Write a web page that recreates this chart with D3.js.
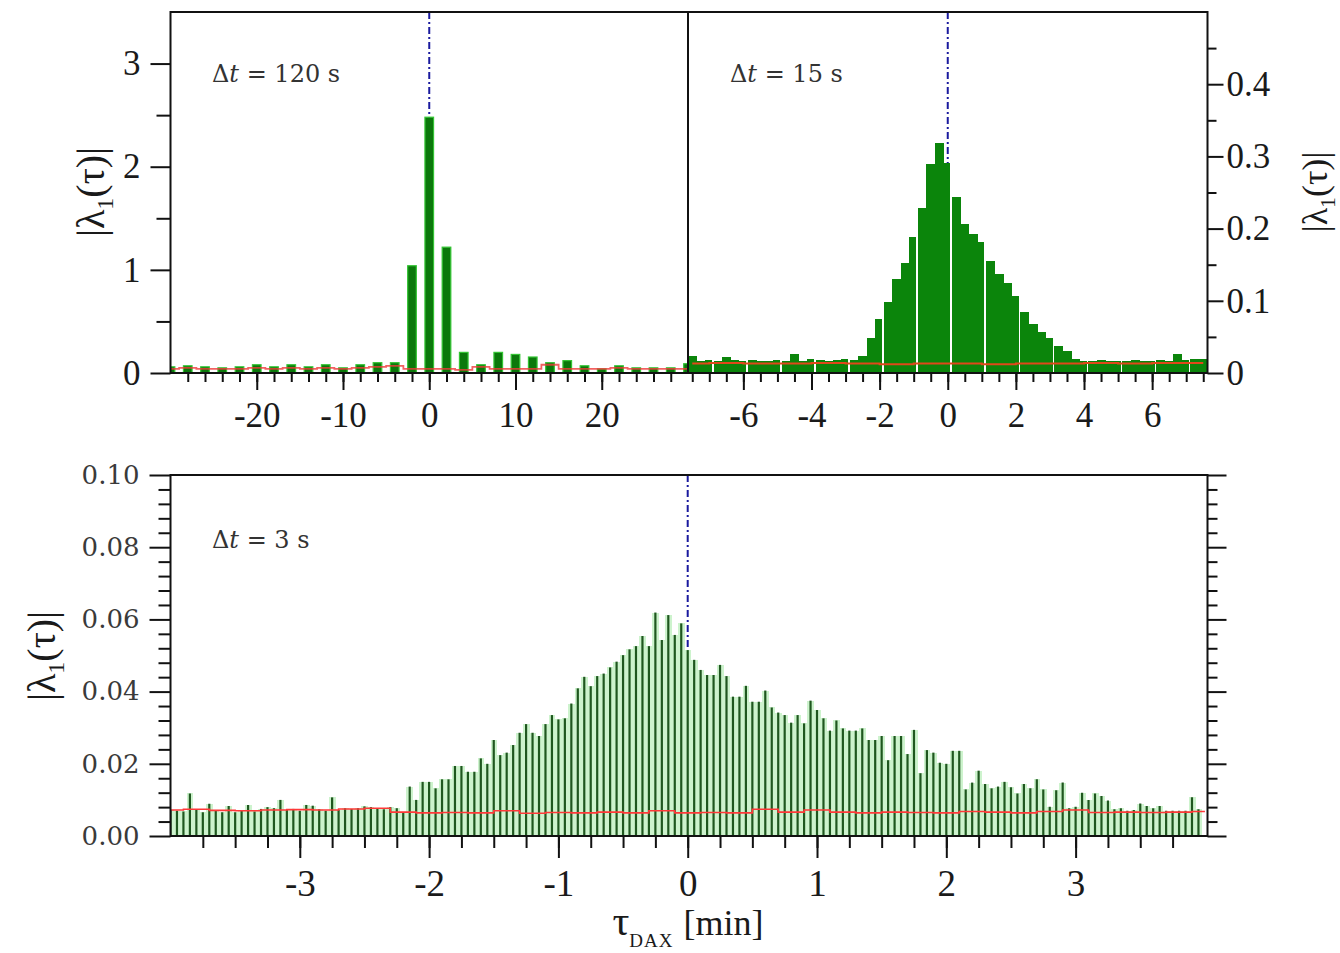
<!DOCTYPE html>
<html>
<head>
<meta charset="utf-8">
<script src="https://cdn.jsdelivr.net/npm/d3@7"></script>
<style>
  body { margin: 0; background: #fff; }
  svg { font-family: "Liberation Serif", "Times New Roman", serif; }
</style>
</head>
<body>
<svg id="chart" width="1340" height="953"></svg>
<script>
// ---- data: top-left panel, dt = 120 s (bins every 2 min) ----
const tau120 = d3.range(-30, 31, 2);
const lam120 = [0.06, 0.07, 0.06, 0.05, 0.06, 0.08, 0.06, 0.08, 0.06, 0.08, 0.05,
    0.08, 0.10, 0.10, 1.04, 2.48, 1.22, 0.20, 0.08, 0.20, 0.18,
    0.155, 0.10, 0.12, 0.07, 0.04, 0.07, 0.05, 0.05, 0.05, 0.09];
const noise120 = [0.04, 0.05, 0.04, 0.04, 0.04, 0.05, 0.04, 0.05, 0.04, 0.05, 0.04,
    0.05, 0.06, 0.07, 0.04, 0.04, 0.04, 0.03, 0.06, 0.04, 0.04,
    0.04, 0.08, 0.04, 0.04, 0.04, 0.05, 0.04, 0.04, 0.04, 0.04];

// ---- data: top-right panel, dt = 15 s (bins every 0.25 min) ----
const tau15 = d3.range(61).map(i => -7.5 + 0.25 * i);
const lam15 = [0.023, 0.017, 0.018, 0.017, 0.022, 0.018, 0.017, 0.018, 0.017, 0.017,
    0.018, 0.017, 0.026, 0.017, 0.019, 0.018, 0.017, 0.018, 0.019, 0.018,
    0.023, 0.049, 0.075, 0.098, 0.130, 0.152, 0.189, 0.229, 0.289, 0.319,
    0.291, 0.244, 0.207, 0.193, 0.181, 0.155, 0.137, 0.125, 0.106, 0.085,
    0.068, 0.057, 0.048, 0.038, 0.030, 0.019, 0.017, 0.017, 0.018, 0.017,
    0.016, 0.017, 0.018, 0.017, 0.017, 0.018, 0.017, 0.027, 0.018, 0.019, 0.019];
const tauNoise15 = d3.range(-7.5, 7.6, 1);
const noise15 = [0.013, 0.014, 0.013, 0.013, 0.014, 0.013, 0.012, 0.013,
    0.013, 0.012, 0.013, 0.013, 0.014, 0.013, 0.014, 0.014];

// ---- data: bottom panel, dt = 3 s (bins every 0.05 min) ----
const tau3 = d3.range(160).map(i => -4 + 0.05 * i);
const lam3 = [
    0.0072, 0.0070, 0.0068, 0.0118, 0.0072, 0.0066, 0.0089, 0.0072, 0.0066, 0.0083,
    0.0066, 0.0069, 0.0086, 0.0068, 0.0075, 0.0080, 0.0077, 0.0100, 0.0072, 0.0075,
    0.0070, 0.0086, 0.0084, 0.0074, 0.0070, 0.0107, 0.0072, 0.0077, 0.0075, 0.0077,
    0.0082, 0.0080, 0.0076, 0.0074, 0.0080, 0.0077, 0.0066, 0.0137, 0.0100, 0.0150,
    0.0150, 0.0132, 0.0157, 0.0157, 0.0194, 0.0194, 0.0178, 0.0178, 0.0215, 0.0200,
    0.0266, 0.0224, 0.0231, 0.0252, 0.0286, 0.0310, 0.0286, 0.0277, 0.0310, 0.0335,
    0.0323, 0.0326, 0.0367, 0.0409, 0.0441, 0.0415, 0.0443, 0.0450, 0.0467, 0.0483,
    0.0501, 0.0517, 0.0526, 0.0554, 0.0526, 0.0619, 0.0543, 0.0612, 0.0557, 0.0589,
    0.0515, 0.0488, 0.0460, 0.0446, 0.0446, 0.0474, 0.0443, 0.0386, 0.0386, 0.0416,
    0.0372, 0.0372, 0.0403, 0.0356, 0.0342, 0.0335, 0.0314, 0.0335, 0.0312, 0.0375,
    0.0349, 0.0326, 0.0292, 0.0320, 0.0298, 0.0292, 0.0292, 0.0298, 0.0266, 0.0266,
    0.0277, 0.0210, 0.0277, 0.0277, 0.0227, 0.0294, 0.0174, 0.0238, 0.0231, 0.0203,
    0.0200, 0.0236, 0.0236, 0.0129, 0.0148, 0.0181, 0.0144, 0.0132, 0.0137, 0.0150,
    0.0135, 0.0118, 0.0144, 0.0132, 0.0157, 0.0129, 0.0081, 0.0127, 0.0148, 0.0077,
    0.0081, 0.0120, 0.0100, 0.0118, 0.0111, 0.0098, 0.0074, 0.0077, 0.0070, 0.0072,
    0.0090, 0.0083, 0.0077, 0.0083, 0.0070, 0.0070, 0.0070, 0.0070, 0.0107, 0.0074];
const tauNoise3 = d3.range(41).map(i => -4 + 0.2 * i);
const noise3 = [0.0072, 0.0074, 0.0071, 0.0070, 0.0072, 0.0073, 0.0072, 0.0075, 0.0077, 0.0066,
    0.0064, 0.0065, 0.0064, 0.0070, 0.0063, 0.0065, 0.0064, 0.0066, 0.0064, 0.0070,
    0.0064, 0.0065, 0.0064, 0.0074, 0.0066, 0.0072, 0.0066, 0.0064, 0.0066, 0.0065,
    0.0064, 0.0068, 0.0066, 0.0064, 0.0068, 0.0072, 0.0065, 0.0066, 0.0065, 0.0066, 0.0068];

// ---- layout ----
const svg = d3.select("#chart");
const topArea = {top: 12, bottom: 373};
const botArea = {top: 475, bottom: 836};

const xL = d3.scaleLinear().domain([-30, 30]).range([170.5, 688]);
const xR = d3.scaleLinear().domain([-7.625, 7.625]).range([688, 1207.5]);
const xB = d3.scaleLinear().domain([-4, 4.02]).range([170.5, 1207.5]);
const yL = d3.scaleLinear().domain([0, 3.5]).range([topArea.bottom, topArea.top]);
const yR = d3.scaleLinear().domain([0, 0.5]).range([topArea.bottom, topArea.top]);
const yB = d3.scaleLinear().domain([0, 0.1]).range([botArea.bottom, botArea.top]);

function clip(id, x0, x1, y0, y1) {
    svg.append("clipPath").attr("id", id)
        .append("rect").attr("x", x0).attr("y", y0).attr("width", x1 - x0).attr("height", y1 - y0);
    return svg.append("g").attr("clip-path", `url(#${id})`);
}

function zeroLine(g, x, y) {
    g.append("line")
        .attr("x1", x(0)).attr("x2", x(0))
        .attr("y1", y.range()[1]).attr("y2", y.range()[0])
        .attr("stroke", "#1a1a9e").attr("stroke-width", 2)
        .attr("stroke-dasharray", "7,3,2,3");
}

function styleAxis(g, size, family) {
    g.select(".domain").remove();
    g.selectAll("line").attr("stroke", "#111").attr("stroke-width", 2);
    g.attr("font-family", family || "Liberation Serif").attr("font-size", size);
    g.selectAll("text").attr("fill", "#1a1a1a");
}

// ---- top-left panel ----
const gL = clip("clipL", 170.5, 688, topArea.top, topArea.bottom);
zeroLine(gL, xL, yL);
gL.selectAll(".bar120")
    .data(tau120)
    .enter()
    .append("rect")
    .attr("class", "bar120")
    .attr("x", d => xL(d - 0.5))
    .attr("width", xL(1) - xL(0))
    .attr("y", (d, i) => yL(lam120[i]))
    .attr("height", (d, i) => yL(0) - yL(lam120[i]))
    .attr("fill", "#0b780b")
    .attr("stroke", "#33c433")
    .attr("stroke-width", 1.2);
gL.append("path")
    .datum(tau120)
    .attr("fill", "none")
    .attr("stroke", "#f03a3a")
    .attr("stroke-opacity", 0.8)
    .attr("stroke-width", 1.8)
    .attr("d", d3.line().x(d => xL(d)).y((d, i) => yL(noise120[i])).curve(d3.curveStep));

// ---- top-right panel ----
const gR = clip("clipR", 688, 1207.5, topArea.top, topArea.bottom);
zeroLine(gR, xR, yR);
const binR = xR(0.25) - xR(0);
gR.selectAll(".bar15")
    .data(tau15)
    .enter()
    .append("rect")
    .attr("class", "bar15")
    .attr("x", d => xR(d - 0.125))
    .attr("width", d => Math.abs(d - Math.round(d)) < 1e-6 ? binR - 1.6 : binR + 0.4)
    .attr("y", (d, i) => yR(lam15[i]))
    .attr("height", (d, i) => yR(0) - yR(lam15[i]))
    .attr("fill", "#0b850b")
    .attr("shape-rendering", "crispEdges");
gR.append("path")
    .datum(tauNoise15)
    .attr("fill", "none")
    .attr("stroke", "#e0481a")
    .attr("stroke-width", 2)
    .attr("d", d3.line().x(d => xR(d)).y((d, i) => yR(noise15[i])).curve(d3.curveStep));

// ---- bottom panel ----
const gB = clip("clipB", 170.5, 1207.5, botArea.top, botArea.bottom);
zeroLine(gB, xB, yB);
const binB = xB(0.05) - xB(0);
gB.selectAll(".fill3")
    .data(tau3)
    .enter()
    .append("rect")
    .attr("class", "fill3")
    .attr("x", d => xB(d) - binB / 2)
    .attr("width", binB + 0.3)
    .attr("y", (d, i) => yB(lam3[i]))
    .attr("height", (d, i) => yB(0) - yB(lam3[i]))
    .attr("fill", "#cdf3cd")
    .attr("shape-rendering", "crispEdges");
gB.selectAll(".stick3")
    .data(tau3)
    .enter()
    .append("line")
    .attr("class", "stick3")
    .attr("x1", d => xB(d)).attr("x2", d => xB(d))
    .attr("y1", yB(0))
    .attr("y2", (d, i) => yB(lam3[i]))
    .attr("stroke", "#1f571f")
    .attr("stroke-width", 2.2);
gB.append("path")
    .datum(tauNoise3)
    .attr("fill", "none")
    .attr("stroke", "#ff3838")
    .attr("stroke-width", 1.6)
    .attr("d", d3.line().x(d => xB(d)).y((d, i) => yB(noise3[i])).curve(d3.curveStep));

// ---- frames ----
svg.append("rect")
    .attr("x", 170.5).attr("y", topArea.top)
    .attr("width", 1207.5 - 170.5).attr("height", topArea.bottom - topArea.top)
    .attr("fill", "none").attr("stroke", "#111").attr("stroke-width", 2);
svg.append("line")
    .attr("x1", 688).attr("x2", 688).attr("y1", topArea.top).attr("y2", topArea.bottom)
    .attr("stroke", "#111").attr("stroke-width", 2);
svg.append("rect")
    .attr("x", 170.5).attr("y", botArea.top)
    .attr("width", 1207.5 - 170.5).attr("height", botArea.bottom - botArea.top)
    .attr("fill", "none").attr("stroke", "#111").attr("stroke-width", 2);

// ---- axes: top-left ----
let g = svg.append("g").attr("transform", `translate(0,${topArea.bottom})`)
    .call(d3.axisBottom(xL).tickValues(d3.range(-28, 29, 2)).tickSize(9).tickFormat(""));
styleAxis(g, 35);
g = svg.append("g").attr("transform", `translate(0,${topArea.bottom})`)
    .call(d3.axisBottom(xL).tickValues([-20, -10, 0, 10, 20]).tickSize(17).tickPadding(12).tickFormat(d => String(d)));
styleAxis(g, 35);
g = svg.append("g").attr("transform", "translate(170.5,0)")
    .call(d3.axisLeft(yL).tickValues([0, 1, 2, 3]).tickSize(20).tickPadding(10).tickFormat(d => String(d)));
styleAxis(g, 35);
g = svg.append("g").attr("transform", "translate(170.5,0)")
    .call(d3.axisLeft(yL).tickValues([0.5, 1.5, 2.5]).tickSize(14).tickFormat(""));
styleAxis(g, 35);

// ---- axes: top-right ----
g = svg.append("g").attr("transform", `translate(0,${topArea.bottom})`)
    .call(d3.axisBottom(xR).tickValues(d3.range(-7.5, 7.6, 0.5)).tickSize(9).tickFormat(""));
styleAxis(g, 35);
g = svg.append("g").attr("transform", `translate(0,${topArea.bottom})`)
    .call(d3.axisBottom(xR).tickValues([-6, -4, -2, 0, 2, 4, 6]).tickSize(17).tickPadding(12).tickFormat(d => String(d)));
styleAxis(g, 35);
g = svg.append("g").attr("transform", "translate(1207.5,0)")
    .call(d3.axisRight(yR).tickValues([0, 0.1, 0.2, 0.3, 0.4]).tickSize(16).tickPadding(3).tickFormat(d => String(d)));
styleAxis(g, 35);
g = svg.append("g").attr("transform", "translate(1207.5,0)")
    .call(d3.axisRight(yR).tickValues([0.05, 0.15, 0.25, 0.35, 0.45]).tickSize(9).tickFormat(""));
styleAxis(g, 35);

// ---- axes: bottom ----
g = svg.append("g").attr("transform", `translate(0,${botArea.bottom})`)
    .call(d3.axisBottom(xB).tickValues(d3.range(-3.75, 4, 0.25)).tickSize(12).tickFormat(""));
styleAxis(g, 37);
g = svg.append("g").attr("transform", `translate(0,${botArea.bottom})`)
    .call(d3.axisBottom(xB).tickValues([-3, -2, -1, 0, 1, 2, 3]).tickSize(22).tickPadding(12).tickFormat(d => String(d)));
styleAxis(g, 37);
g = svg.append("g").attr("transform", "translate(170.5,0)")
    .call(d3.axisLeft(yB).tickValues([0, 0.02, 0.04, 0.06, 0.08, 0.10]).tickSize(21).tickPadding(10).tickFormat(d3.format(".2f")));
styleAxis(g, 26, "DejaVu Serif");
g.selectAll("text").attr("fill", "#3a3a3a");
g = svg.append("g").attr("transform", "translate(170.5,0)")
    .call(d3.axisLeft(yB).tickValues(d3.range(0.004, 0.1, 0.004).filter((d, i) => (i + 1) % 5 !== 0)).tickSize(12).tickFormat(""));
styleAxis(g, 26);
g = svg.append("g").attr("transform", "translate(1207.5,0)")
    .call(d3.axisRight(yB).tickValues([0, 0.02, 0.04, 0.06, 0.08, 0.10]).tickSize(19).tickFormat(""));
styleAxis(g, 26);
g = svg.append("g").attr("transform", "translate(1207.5,0)")
    .call(d3.axisRight(yB).tickValues(d3.range(0.004, 0.1, 0.004).filter((d, i) => (i + 1) % 5 !== 0)).tickSize(10).tickFormat(""));
styleAxis(g, 26);

// ---- annotations ----
function deltaLabel(x, y, value) {
    const t = svg.append("text").attr("x", x).attr("y", y)
        .attr("font-family", "DejaVu Serif").attr("font-size", 24).attr("fill", "#333");
    t.append("tspan").text("Δ");
    t.append("tspan").attr("font-style", "italic").text("t");
    t.append("tspan").text(` = ${value} s`);
}
deltaLabel(212, 82, "120");
deltaLabel(730, 82, "15");
deltaLabel(212, 548, "3");

function lambdaLabel(x, y, size) {
    const t = svg.append("text")
        .attr("transform", `translate(${x},${y}) rotate(-90)`)
        .attr("text-anchor", "middle")
        .attr("font-size", size)
        .attr("fill", "#1a1a1a");
    t.append("tspan").text("|λ");
    t.append("tspan").attr("font-size", size * 0.6).attr("dy", size * 0.22).text("1");
    t.append("tspan").attr("dy", -size * 0.22).text("(τ)|");
}
lambdaLabel(104, 192, 40);
lambdaLabel(1327, 192, 36);
lambdaLabel(55, 656, 40);

const xt = svg.append("text").attr("x", 688).attr("y", 935).attr("text-anchor", "middle").attr("fill", "#1a1a1a");
xt.append("tspan").attr("font-size", 42).text("τ");
xt.append("tspan").attr("font-size", 19).attr("dy", 12).attr("letter-spacing", 1).text("DAX");
xt.append("tspan").attr("font-size", 36).attr("dy", -12).attr("dx", 10).text("[min]");
</script>
</body>
</html>
